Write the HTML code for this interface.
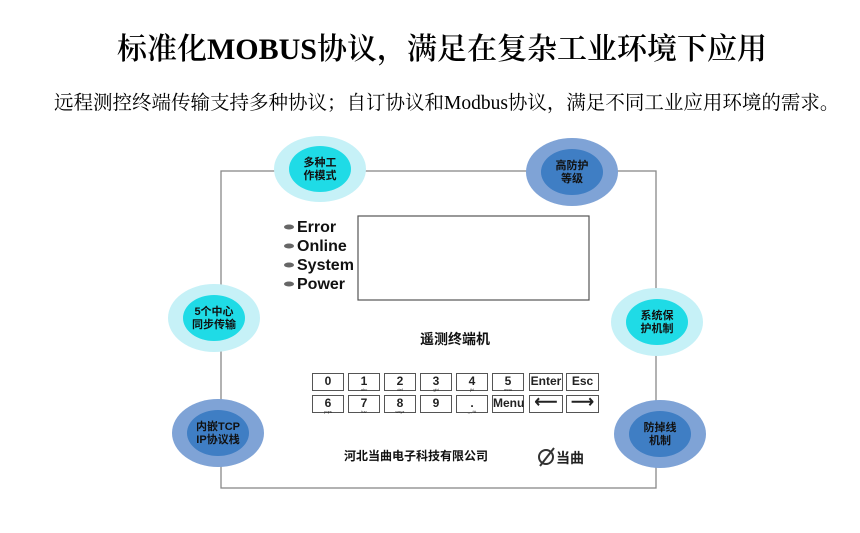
<!DOCTYPE html>
<html><head><meta charset="utf-8"><style>
body{margin:0;width:860px;height:533px;background:#fff;overflow:hidden;position:relative;font-family:"Liberation Sans","Noto Sans CJK SC",sans-serif}
.t{position:absolute;white-space:nowrap}
.k{position:absolute;width:32px;height:18px;border:1px solid #555;box-sizing:border-box;text-align:center;font-size:12px;line-height:14px;background:#fff;font-weight:bold;color:#222}
.k small{display:block;font-size:4px;line-height:3px;font-weight:normal}
</style></head><body>
<div class="t" style="left:12px;width:860px;text-align:center;top:24px;font-family:'Liberation Serif','Noto Serif CJK SC',serif;font-size:30px;font-weight:600">标准化MOBUS协议，满足在复杂工业环境下应用</div>
<div class="t" style="left:54px;top:87px;font-family:'Liberation Serif','Noto Serif CJK SC',serif;font-size:19.5px;">远程测控终端传输支持多种协议；自订协议和Modbus协议，满足不同工业应用环境的需求。</div>
<svg width="860" height="533" style="position:absolute;left:0;top:0">
<rect x="221" y="171" width="435" height="317" fill="none" stroke="#888" stroke-width="1.3"/>
<rect x="358" y="216" width="231" height="84" fill="none" stroke="#555" stroke-width="1.2"/>
<g font-size="11" text-anchor="middle" fill="#111" font-weight="bold">
<ellipse cx="320" cy="169" rx="46" ry="33" fill="#c6f1f7"/><ellipse cx="320" cy="169" rx="31" ry="23" fill="#1fdbe6"/>
<text x="320" y="166">多种工</text><text x="320" y="179">作模式</text>
<ellipse cx="572" cy="172" rx="46" ry="34" fill="#7fa3d6"/><ellipse cx="572" cy="172" rx="31" ry="23" fill="#3f7ec4"/>
<text x="572" y="169">高防护</text><text x="572" y="182">等级</text>
<ellipse cx="214" cy="318" rx="46" ry="34" fill="#c6f1f7"/><ellipse cx="214" cy="318" rx="31" ry="23" fill="#1fdbe6"/>
<text x="214" y="315">5个中心</text><text x="214" y="328">同步传输</text>
<ellipse cx="218" cy="433" rx="46" ry="34" fill="#7fa3d6"/><ellipse cx="218" cy="433" rx="31" ry="23" fill="#3f7ec4"/>
<text x="218" y="430">内嵌TCP</text><text x="218" y="443">IP协议栈</text>
<ellipse cx="657" cy="322" rx="46" ry="34" fill="#c6f1f7"/><ellipse cx="657" cy="322" rx="31" ry="23" fill="#1fdbe6"/>
<text x="657" y="319">系统保</text><text x="657" y="332">护机制</text>
<ellipse cx="660" cy="434" rx="46" ry="34" fill="#7fa3d6"/><ellipse cx="660" cy="434" rx="31" ry="23" fill="#3f7ec4"/>
<text x="660" y="431">防掉线</text><text x="660" y="444">机制</text>
</g>
<g fill="#666"><ellipse cx="289" cy="227" rx="5" ry="2.5"/><ellipse cx="289" cy="246" rx="5" ry="2.5"/><ellipse cx="289" cy="265" rx="5" ry="2.5"/><ellipse cx="289" cy="284" rx="5" ry="2.5"/></g>
<g font-size="16" fill="#111" font-weight="bold"><text x="297" y="232">Error</text><text x="297" y="251">Online</text><text x="297" y="270">System</text><text x="297" y="289">Power</text></g>
<text x="455" y="344" font-size="14" font-weight="bold" text-anchor="middle" fill="#111">遥测终端机</text>
<text x="416" y="460" font-size="12" font-weight="bold" text-anchor="middle" fill="#111">河北当曲电子科技有限公司</text>
<line x1="540" y1="466" x2="554" y2="448" stroke="#333" stroke-width="2"/>
<circle cx="546" cy="457" r="7" fill="none" stroke="#333" stroke-width="2"/>
<text x="556" y="463" font-size="14" font-weight="bold" fill="#222">当曲</text>
</svg>
<div class="k" style="left:312px;top:373px">0</div>
<div class="k" style="left:348px;top:373px">1<small>abc</small></div>
<div class="k" style="left:384px;top:373px">2<small>def</small></div>
<div class="k" style="left:420px;top:373px">3<small>ghi</small></div>
<div class="k" style="left:456px;top:373px">4<small>jkl</small></div>
<div class="k" style="left:492px;top:373px">5<small>mno</small></div>
<div class="k" style="left:529px;top:373px;width:34px">Enter</div>
<div class="k" style="left:566px;top:373px;width:33px">Esc</div>
<div class="k" style="left:312px;top:395px">6<small>pqrs</small></div>
<div class="k" style="left:348px;top:395px">7<small>tuv</small></div>
<div class="k" style="left:384px;top:395px">8<small>wxyz</small></div>
<div class="k" style="left:420px;top:395px">9</div>
<div class="k" style="left:456px;top:395px">.<small>_.,*#</small></div>
<div class="k" style="left:492px;top:395px;font-size:12px">Menu</div>
<div class="k" style="left:529px;top:395px;width:34px;font-size:16px">⟵</div>
<div class="k" style="left:566px;top:395px;width:33px;font-size:16px">⟶</div>
</body></html>
